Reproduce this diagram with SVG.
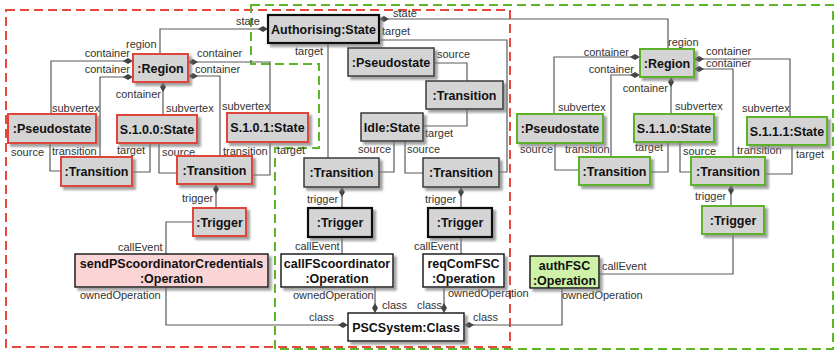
<svg xmlns="http://www.w3.org/2000/svg" xmlns:xlink="http://www.w3.org/1999/xlink" width="837" height="352" viewBox="0 0 837 352">
<defs>
<filter id="sh" x="-10%" y="-10%" width="130%" height="140%">
<feDropShadow dx="3" dy="3" stdDeviation="0.8" flood-color="#7a7a7a" flood-opacity="0.7"/>
</filter>
<path id="dh" d="M-5,0 L0,-3 L5,0 L0,3 Z" fill="#444"/>
<path id="dv" d="M0,-5 L3,0 L0,5 L-3,0 Z" fill="#444"/>
</defs>
<style>
.n{filter:url(#sh)}
.red{fill:#d4d4d4;stroke:#e0443a;stroke-width:2}
.grn{fill:#d4d4d4;stroke:#5cb32a;stroke-width:2}
.dk{fill:#d4d4d4;stroke:#3a3a3a;stroke-width:1.5}
.bk{fill:#d4d4d4;stroke:#111;stroke-width:2.2}
.op{fill:#fff;stroke:#111;stroke-width:1.4}
.pink{fill:#fbd5d5;stroke:#111;stroke-width:1.4}
.lg{fill:#cdf2a8;stroke:#111;stroke-width:1.4}
.t{font-family:"Liberation Sans",Arial,sans-serif;font-weight:bold;font-size:12.5px;fill:#111;text-anchor:middle}
.l{font-family:"Liberation Sans",Arial,sans-serif;font-size:11px;fill:#333}
.e{text-anchor:end}
.c{fill:none;stroke:#5a5a5a;stroke-width:1.2}
.rd{fill:none;stroke:#e8473c;stroke-width:2;stroke-dasharray:9,5}
.gd{fill:none;stroke:#5cb82a;stroke-width:2;stroke-dasharray:9,5}
</style>

<g id="frames">
<rect class="rd" x="6" y="10" width="504" height="337"/>
<path class="gd" d="M251,5 L833,5 L833,349 L275,349 L275,148 L319,148 L319,64 L251,64 Z"/>
</g>

<g id="connectors">
<!-- left region -->
<path class="c" d="M160,54 V29 H263"/>
<use xlink:href="#dh" x="263" y="29"/>
<path class="c" d="M128,61 H51 V114"/>
<use xlink:href="#dh" x="128" y="61"/>
<path class="c" d="M128,77 H100 V157"/>
<use xlink:href="#dh" x="128" y="77"/>
<path class="c" d="M163,87 V115"/>
<use xlink:href="#dv" x="163" y="87"/>
<path class="c" d="M193,62 H270 V113"/>
<use xlink:href="#dh" x="193" y="62"/>
<path class="c" d="M193,76 H220 V156"/>
<use xlink:href="#dh" x="193" y="76"/>
<path class="c" d="M50,143 V171 H61"/>
<path class="c" d="M132,172 H150 V143"/>
<path class="c" d="M159,143 V173 H177"/>
<path class="c" d="M270,142 V175 H252"/>
<path class="c" d="M216,189 V208"/>
<use xlink:href="#dv" x="216" y="189"/>
<path class="c" d="M193,222 H166 V254"/>
<path class="c" d="M166,287 V325 H343"/>
<use xlink:href="#dh" x="343" y="325"/>
<!-- middle -->
<path class="c" d="M384,19 H668 V49"/>
<use xlink:href="#dh" x="384" y="19"/>
<path class="c" d="M379,40 H507 V172 H499"/>
<path class="c" d="M328,43 V158"/>
<path class="c" d="M434,63 H467 V81"/>
<path class="c" d="M467,109 V126 H423"/>
<path class="c" d="M394,141 V172 H379"/>
<path class="c" d="M405,141 V173 H423"/>
<path class="c" d="M342,192 V208"/>
<use xlink:href="#dv" x="342" y="192"/>
<path class="c" d="M461,192 V208"/>
<use xlink:href="#dv" x="461" y="192"/>
<path class="c" d="M342,237 V254"/>
<path class="c" d="M461,237 V254"/>
<path class="c" d="M375,287 V308"/>
<use xlink:href="#dv" x="375" y="308"/>
<path class="c" d="M444,287 V308"/>
<use xlink:href="#dv" x="444" y="308"/>
<path class="c" d="M469,325 H562 V288"/>
<use xlink:href="#dh" x="469" y="325"/>
<!-- right region -->
<path class="c" d="M635,57 H554 V114"/>
<use xlink:href="#dh" x="635" y="57"/>
<path class="c" d="M635,75 H611 V157"/>
<use xlink:href="#dh" x="635" y="75"/>
<path class="c" d="M671,82 V114"/>
<use xlink:href="#dv" x="671" y="82"/>
<path class="c" d="M699,59 H790 V117"/>
<use xlink:href="#dh" x="699" y="59"/>
<path class="c" d="M699,69 H733 V157"/>
<use xlink:href="#dh" x="699" y="69"/>
<path class="c" d="M555,143 V170 H579"/>
<path class="c" d="M650,172 H668 V142"/>
<path class="c" d="M680,142 V172 H691"/>
<path class="c" d="M765,174 H792 V145"/>
<path class="c" d="M731,190 V206"/>
<use xlink:href="#dv" x="731" y="190"/>
<path class="c" d="M733,234 V274 H599"/>
</g>

<g id="labels">
<text class="l" x="236" y="25">state</text>
<text class="l" x="126" y="48">region</text>
<text class="l e" x="130" y="57">container</text>
<text class="l e" x="130" y="73">container</text>
<text class="l" x="197" y="57">container</text>
<text class="l" x="195" y="73">container</text>
<text class="l e" x="161" y="98">container</text>
<text class="l" x="52" y="112">subvertex</text>
<text class="l" x="166" y="112">subvertex</text>
<text class="l" x="222" y="110">subvertex</text>
<text class="l" x="11" y="156">source</text>
<text class="l" x="52" y="155">transition</text>
<text class="l" x="117" y="154">target</text>
<text class="l" x="162" y="156">source</text>
<text class="l" x="223" y="155">transition</text>
<text class="l" x="277" y="154">target</text>
<text class="l" x="182" y="202">trigger</text>
<text class="l" x="118" y="251">callEvent</text>
<text class="l" x="80" y="299">ownedOperation</text>
<text class="l" x="393" y="17">state</text>
<text class="l" x="382" y="35">target</text>
<text class="l" x="295" y="55">target</text>
<text class="l" x="437" y="58">source</text>
<text class="l" x="425" y="137">target</text>
<text class="l" x="358" y="153">source</text>
<text class="l" x="407" y="153">source</text>
<text class="l" x="307" y="203">trigger</text>
<text class="l" x="425" y="203">trigger</text>
<text class="l" x="295" y="250">callEvent</text>
<text class="l" x="414" y="250">callEvent</text>
<text class="l" x="293" y="299">ownedOperation</text>
<text class="l" x="448" y="297">ownedOperation</text>
<text class="l" x="382" y="309">class</text>
<text class="l" x="417" y="309">class</text>
<text class="l" x="309" y="321">class</text>
<text class="l" x="473" y="321">class</text>
<text class="l" x="668" y="46">region</text>
<text class="l e" x="629" y="56">container</text>
<text class="l e" x="634" y="73">container</text>
<text class="l e" x="668" y="92">container</text>
<text class="l" x="706" y="55">container</text>
<text class="l" x="706" y="67">container</text>
<text class="l" x="558" y="111">subvertex</text>
<text class="l" x="675" y="110">subvertex</text>
<text class="l" x="742" y="112">subvertex</text>
<text class="l" x="520" y="153">source</text>
<text class="l" x="565" y="153">transition</text>
<text class="l" x="635" y="151">target</text>
<text class="l" x="683" y="155">source</text>
<text class="l" x="737" y="154">transition</text>
<text class="l" x="796" y="158">target</text>
<text class="l" x="695" y="200">trigger</text>
<text class="l" x="602" y="270">callEvent</text>
<text class="l" x="562" y="299">ownedOperation</text>
</g>

<g id="L_region"><rect class="n red" x="133" y="54" width="55" height="28"/><text class="t" x="160.5" y="72.5">:Region</text></g>
<g id="L_pseudostate"><rect class="n red" x="8" y="114" width="88" height="29"/><text class="t" x="52" y="133">:Pseudostate</text></g>
<g id="S100"><rect class="n red" x="117" y="115" width="80" height="28"/><text class="t" x="157" y="133.5">S.1.0.0:State</text></g>
<g id="S101"><rect class="n red" x="227" y="113" width="81" height="29"/><text class="t" x="267.5" y="132">S.1.0.1:State</text></g>
<g id="L_transition1"><rect class="n red" x="61" y="157" width="71" height="29"/><text class="t" x="96.5" y="176">:Transition</text></g>
<g id="L_transition2"><rect class="n red" x="177" y="156" width="75" height="28"/><text class="t" x="214.5" y="174.5">:Transition</text></g>
<g id="L_trigger"><rect class="n red" x="193" y="208" width="53" height="28"/><text class="t" x="219.5" y="226.5">:Trigger</text></g>
<g id="sendPS"><rect class="n pink" x="75" y="254" width="193" height="33"/><text class="t" x="171.5" y="268">sendPScoordinatorCredentials</text><text class="t" x="171.5" y="283">:Operation</text></g>

<g id="authorising"><rect class="n bk" x="268" y="15" width="111" height="28"/><text class="t" x="323.5" y="33.5">Authorising:State</text></g>
<g id="M_pseudostate"><rect class="n dk" x="348" y="48" width="86" height="28"/><text class="t" x="391" y="66.5">:Pseudostate</text></g>
<g id="M_transition0"><rect class="n dk" x="426" y="81" width="77" height="28"/><text class="t" x="464.5" y="99.5">:Transition</text></g>
<g id="idle"><rect class="n dk" x="361" y="113" width="62" height="28"/><text class="t" x="392" y="131.5">Idle:State</text></g>
<g id="M_transition1"><rect class="n dk" x="304" y="158" width="75" height="29"/><text class="t" x="341.5" y="177">:Transition</text></g>
<g id="M_transition2"><rect class="n dk" x="423" y="158" width="76" height="29"/><text class="t" x="461" y="177">:Transition</text></g>
<g id="M_trigger1"><rect class="n bk" x="308" y="208" width="64" height="29"/><text class="t" x="340" y="227">:Trigger</text></g>
<g id="M_trigger2"><rect class="n bk" x="428" y="208" width="64" height="29"/><text class="t" x="460" y="227">:Trigger</text></g>
<g id="callFS"><rect class="n op" x="281" y="254" width="112" height="33"/><text class="t" x="337" y="268">callFScoordinator</text><text class="t" x="337" y="283">:Operation</text></g>
<g id="reqCom"><rect class="n op" x="423" y="254" width="81" height="33"/><text class="t" x="463.5" y="268">reqComFSC</text><text class="t" x="463.5" y="283">:Operation</text></g>
<g id="psc"><rect class="n op" x="348" y="313" width="116" height="28"/><text class="t" x="406" y="331.5">PSCSystem:Class</text></g>

<g id="R_region"><rect class="n grn" x="640" y="49" width="54" height="28"/><text class="t" x="667" y="67.5">:Region</text></g>
<g id="R_pseudostate"><rect class="n grn" x="517" y="114" width="86" height="29"/><text class="t" x="560" y="133">:Pseudostate</text></g>
<g id="S110"><rect class="n grn" x="634" y="114" width="80" height="28"/><text class="t" x="674" y="132.5">S.1.1.0:State</text></g>
<g id="S111"><rect class="n grn" x="747" y="117" width="80" height="28"/><text class="t" x="787" y="135.5">S.1.1.1:State</text></g>
<g id="R_transition1"><rect class="n grn" x="579" y="157" width="71" height="28"/><text class="t" x="614.5" y="175.5">:Transition</text></g>
<g id="R_transition2"><rect class="n grn" x="691" y="157" width="74" height="28"/><text class="t" x="728" y="175.5">:Transition</text></g>
<g id="R_trigger"><rect class="n grn" x="702" y="206" width="62" height="28"/><text class="t" x="733" y="224.5">:Trigger</text></g>
<g id="authFSC"><rect class="n lg" x="530" y="256" width="69" height="32"/><text class="t" x="564.5" y="270">authFSC</text><text class="t" x="564.5" y="285">:Operation</text></g>
</svg>
